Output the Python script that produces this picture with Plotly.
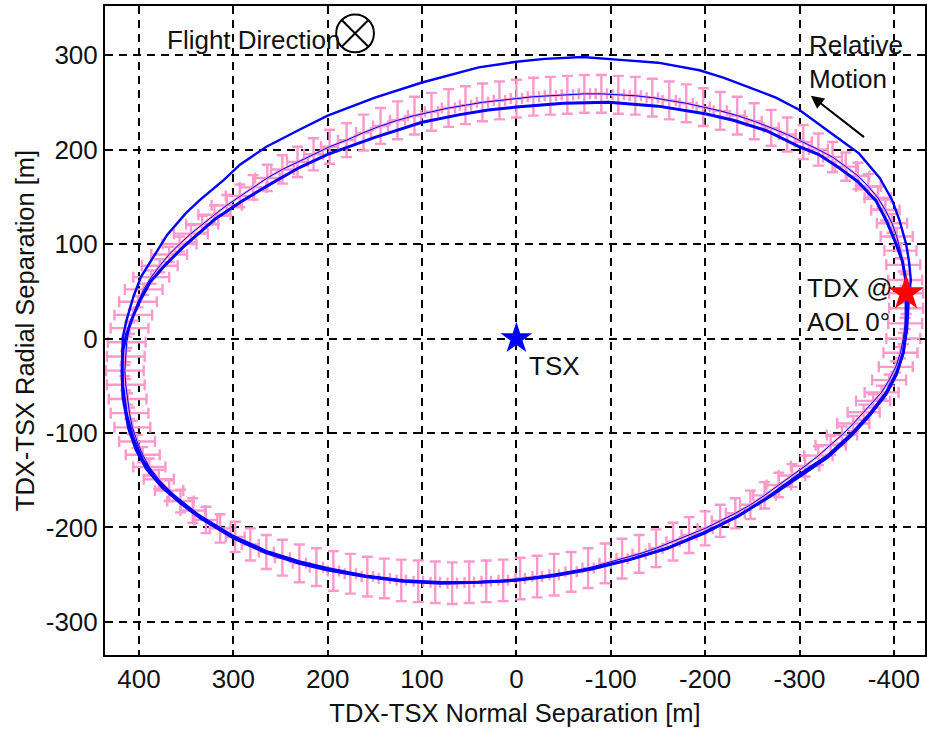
import plotly.graph_objects as go

# ---------------- data ----------------
# mean relative trajectory (pink, with error bars)
normal_center = [
    -413, -412, -410, -407, -403, -398, -391, -383, -373, -362, -349, -335, -320, -304, -287,
    -270, -252, -234, -216, -198, -180, -162, -144, -126, -108, -90, -72, -54, -36, -18,
    0, 18, 36, 54, 72, 90, 108, 126, 144, 162, 180, 198, 215, 232, 248,
    264, 279, 293, 307, 320, 333, 345, 357, 368, 378, 387, 395, 401, 406, 410,
    413, 414, 415, 414, 412, 410, 407, 402, 396, 389, 379, 368, 356, 343, 329,
    314, 298, 282, 265, 248, 230, 212, 194, 176, 158, 140, 122, 104, 86, 68,
    50, 32, 14, -4, -22, -40, -58, -76, -94, -112, -130, -148, -166, -183, -200,
    -216, -232, -248, -263, -278, -292, -306, -320, -333, -345, -357, -368, -378, -387, -395,
    -402, -407, -410, -412, -413]
radial_center = [
    48, 62, 78, 93, 108, 122, 136, 149, 161, 172, 182, 192, 200, 208, 216,
    223, 230, 236, 241, 245, 249, 252, 255, 257, 258, 259, 259, 258, 257, 256,
    254, 252, 250, 247, 244, 240, 236, 231, 225, 218, 210, 203, 195, 187, 179,
    170, 160, 151, 141, 131, 121, 111, 100, 89, 77, 65, 52, 39, 25, 11,
    -4, -19, -34, -49, -64, -79, -94, -109, -123, -136, -149, -161, -172, -182, -192,
    -201, -210, -218, -226, -232, -238, -242, -246, -249, -252, -254, -256, -257, -258, -259,
    -258, -257, -256, -254, -252, -250, -247, -243, -238, -233, -228, -222, -215, -208, -201,
    -193, -185, -176, -166, -155, -145, -135, -124, -113, -102, -90, -78, -66, -57, -44,
    -30, -15, 0, 16, 32]
err_normal = [
    18, 18, 18, 17, 17,
    16, 15, 14, 13, 12, 11, 10,
    10, 9, 9, 8, 8, 8, 7, 7, 7, 7, 6, 6, 6, 6, 6, 6, 6, 6, 6, 6, 6, 6, 7, 7, 7, 8, 8, 8, 9, 9,
    10, 11, 12, 13, 14, 15, 16, 17, 17, 18, 18, 19, 19,
    19, 20, 20, 20, 20, 20, 20, 20, 20, 20, 20, 19, 19, 18,
    17, 16, 15, 14, 13, 12, 11, 10, 9, 8, 8,
    7, 7, 6, 6, 6, 6, 5, 5, 5, 5, 5, 5, 5, 5, 5, 5, 6, 6, 6, 6, 7, 7, 7, 8,
    8, 9, 10, 11, 12, 13, 14, 15, 15, 16, 16, 17, 17, 18, 18, 18,
    18, 18, 18, 18, 18]
err_radial = [
    6, 6, 7, 8, 9,
    10, 11, 12, 13, 14, 15, 16,
    17, 18, 18, 19, 19, 20, 20, 20, 20, 20, 20, 20, 20, 20, 20, 20, 20, 20, 20, 20, 20, 20, 20, 20, 20, 20, 19, 19, 18, 18,
    17, 16, 15, 14, 13, 12, 11, 10, 9, 9, 8, 8, 7,
    7, 6, 6, 6, 6, 6, 6, 6, 6, 6, 6, 7, 7, 8,
    9, 10, 11, 12, 13, 14, 15, 16, 17, 18, 19,
    20, 20, 21, 21, 21, 21, 22, 22, 22, 22, 22, 22, 22, 22, 22, 22, 21, 21, 21, 21, 20, 20, 20, 19,
    18, 17, 16, 15, 14, 13, 12, 11, 10, 10, 9, 8, 8, 7, 7, 6,
    6, 6, 6, 6, 6]

# outer blue trajectory
normal_outer = [
    -416, -418, -416, -413, -406, -398, -385, -363, -334, -300, -275, -247, -220, -194, -150,
    -110, -70, -30, 0, 40, 70, 100, 150, 200, 230, 265, 293, 310, 335, 350,
    370, 385, 398, 406, 413, 417, 418, 417, 413, 406, 396, 382, 362, 338, 302,
    265, 230, 200, 160, 120, 80, 40, 0, -40, -80, -120, -160, -200, -238, -268,
    -300, -330, -355, -375, -392, -403, -410, -414, -416]
radial_outer = [
    45, 62, 82, 100, 125, 147, 170, 196, 217, 242, 255, 266, 276, 284, 292,
    295, 298, 296, 293, 287, 279, 271, 255, 236, 221, 203, 184, 168, 147, 133,
    110, 86, 65, 44, 20, 2, -26, -50, -80, -105, -128, -148, -167, -186, -208,
    -225, -236, -243, -251, -256, -258, -258, -256, -250, -243, -234, -222, -206, -186, -168,
    -146, -126, -103, -81, -59, -38, -15, 10, 45]

# inner blue trajectory
normal_inner = [
    -413, -413, -409, -402, -392, -381, -362, -340, -320, -300, -265, -230, -200, -150, -98,
    -50, 0, 30, 60, 100, 150, 200, 230, 260, 290, 320, 353, 372, 388, 399,
    407, 413, 417, 418, 417, 411, 403, 392, 375, 355, 335, 300, 265, 230, 200,
    160, 120, 80, 40, 0, -40, -80, -120, -160, -200, -235, -265, -300, -330, -356,
    -376, -392, -403, -410, -413, -413]
radial_inner = [
    40, 60, 82, 101, 125, 146, 166, 182, 195, 203, 220, 231, 238, 246, 250,
    249, 245, 242, 237, 229, 213, 195, 181, 164, 146, 126, 97, 78, 60, 40,
    22, 5, -12, -35, -62, -95, -118, -138, -158, -175, -190, -211, -227, -238, -245,
    -252, -257, -259, -258, -256, -251, -244, -234, -222, -205, -188, -169, -144, -124, -100,
    -78, -57, -36, -15, 10, 40]

tsx_normal, tsx_radial = [0], [0]
tdx_normal, tdx_radial = [-413], [48]

x_ticks = [400, 300, 200, 100, 0, -100, -200, -300, -400]
y_ticks = [-300, -200, -100, 0, 100, 200, 300]

# ---------------- figure ----------------
PINK = "#FF99CC"
BLUE = "#0000FF"
FONT = "Liberation Sans, Arial, Helvetica, sans-serif"
TXT_COLOR = "#111111"

fig = go.Figure()

fig.add_trace(go.Scatter(
    x=normal_center, y=radial_center, mode="lines",
    line=dict(color=PINK, width=2.5),
    error_x=dict(type="data", array=err_normal, color=PINK, thickness=2.4, width=5.5),
    error_y=dict(type="data", array=err_radial, color=PINK, thickness=2.4, width=5.5),
    hoverinfo="skip", showlegend=False))

fig.add_trace(go.Scatter(x=normal_outer, y=radial_outer, mode="lines",
                         line=dict(color=BLUE, width=2.4), showlegend=False))
fig.add_trace(go.Scatter(x=normal_inner, y=radial_inner, mode="lines",
                         line=dict(color=BLUE, width=3), showlegend=False))
fig.add_trace(go.Scatter(x=normal_center, y=radial_center, mode="lines",
                         line=dict(color=BLUE, width=1), showlegend=False))

fig.add_trace(go.Scatter(x=tsx_normal, y=tsx_radial, mode="markers",
                         marker=dict(symbol="star", size=24, color=BLUE, line=dict(width=0)),
                         showlegend=False))
fig.add_trace(go.Scatter(x=tdx_normal, y=tdx_radial, mode="markers",
                         marker=dict(symbol="star", size=27, color="#FF0000", line=dict(width=0)),
                         showlegend=False))

# flight direction symbol (circle with cross)
cx, cy, r = 171, 323, 20
d = r * 0.707
fig.add_shape(type="circle", xref="x", yref="y", x0=cx - r, x1=cx + r, y0=cy - r, y1=cy + r,
              line=dict(color="black", width=2))
fig.add_shape(type="line", xref="x", yref="y", x0=cx - d, x1=cx + d, y0=cy - d, y1=cy + d,
              line=dict(color="black", width=2))
fig.add_shape(type="line", xref="x", yref="y", x0=cx - d, x1=cx + d, y0=cy + d, y1=cy - d,
              line=dict(color="black", width=2))

txt = dict(family=FONT, size=26, color=TXT_COLOR)
fig.add_annotation(x=372, y=316, text="Flight Direction", showarrow=False,
                   xanchor="left", yanchor="middle", font=txt)
fig.add_annotation(x=-308, y=293, text="Relative<br>Motion", showarrow=False,
                   xanchor="left", yanchor="middle", align="left", font=txt)
fig.add_annotation(x=-306, y=36, text="TDX @<br>AOL 0°", showarrow=False,
                   xanchor="left", yanchor="middle", align="left", font=txt)
fig.add_annotation(x=-11, y=-29, text="TSX", showarrow=False,
                   xanchor="left", yanchor="middle", font=txt)
fig.add_annotation(x=-312, y=257, ax=-370, ay=212, axref="x", ayref="y", xref="x", yref="y",
                   text="", showarrow=True, arrowhead=2, arrowsize=1.3, arrowwidth=2,
                   arrowcolor="black")

axis_common = dict(
    showline=True, linecolor="black", linewidth=2, mirror="allticks",
    ticks="inside", ticklen=5, tickwidth=2, tickcolor="black",
    showgrid=True, gridcolor="black", gridwidth=1.8, griddash="8px,6px",
    zeroline=False, tickfont=dict(family=FONT, size=26, color=TXT_COLOR),
)

fig.update_xaxes(range=[436, -433], tickvals=x_ticks, ticktext=[str(v) for v in x_ticks],
                 title=dict(text="TDX-TSX Normal Separation [m]", standoff=11,
                            font=dict(family=FONT, size=25.5, color=TXT_COLOR)),
                 **axis_common)
fig.update_yaxes(range=[-335, 352], tickvals=y_ticks, ticktext=[str(v) for v in y_ticks],
                 title=dict(text="TDX-TSX Radial Separation [m]", standoff=4,
                            font=dict(family=FONT, size=25.5, color=TXT_COLOR)),
                 **axis_common)

fig.update_layout(
    width=927, height=729,
    margin=dict(l=105, r=2, t=6, b=74, autoexpand=False),
    paper_bgcolor="white", plot_bgcolor="white",
    showlegend=False,
)

fig.write_html("out.html", config={"displayModeBar": False},
               post_script="document.body.style.margin='0px';")
